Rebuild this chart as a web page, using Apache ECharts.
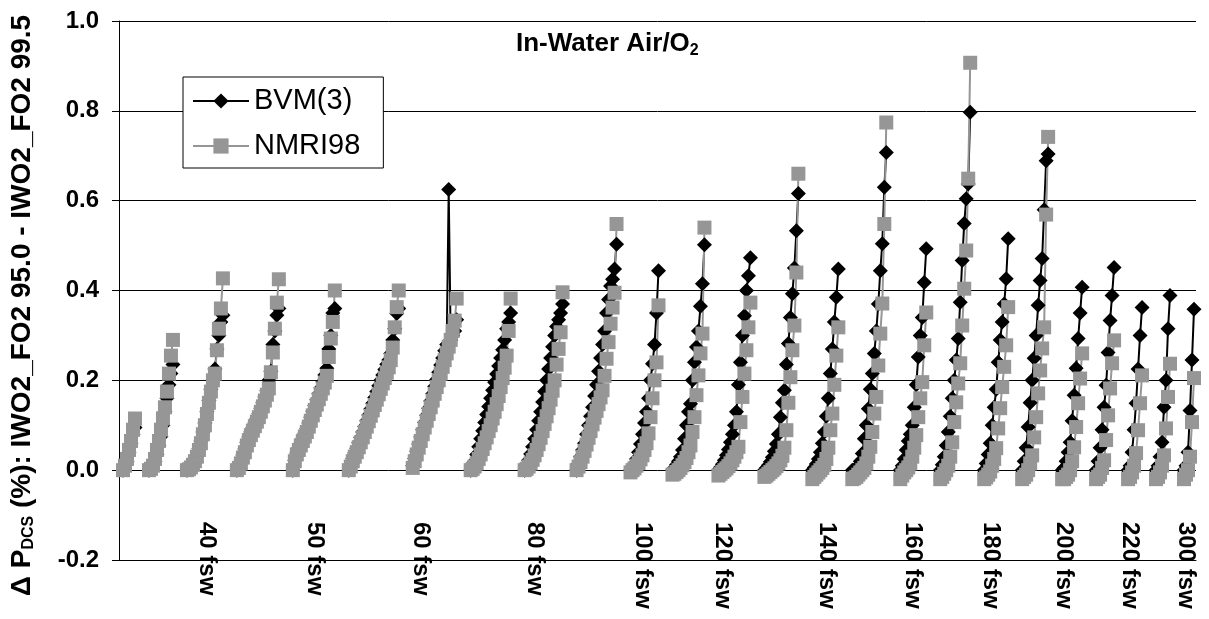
<!DOCTYPE html>
<html>
<head>
<meta charset="utf-8">
<title>In-Water Air/O2</title>
<script src="https://cdn.jsdelivr.net/npm/echarts@6.0.0/dist/echarts.min.js"></script>
<style>
  html, body { margin: 0; padding: 0; background: #fff; }
  #chart { width: 1209px; height: 619px; }
</style>
</head>
<body>
<div id="chart"></div>
<script>
// one array per dive profile, values in order of the category axis
var bvmGroups = [
  [0, 0.01, 0.02, 0.04, 0.06, 0.08, 0.095],
  [0, 0.003, 0.01, 0.02, 0.035, 0.055, 0.075, 0.1, 0.13, 0.16, 0.19, 0.215, 0.235],
  [0, 0.002, 0.006, 0.013, 0.022, 0.033, 0.048, 0.065, 0.085, 0.105, 0.13, 0.155, 0.18, 0.2, 0.225, 0.27, 0.3, 0.33, 0.345],
  [0, 0.008, 0.02, 0.034, 0.047, 0.062, 0.074, 0.085, 0.095, 0.105, 0.115, 0.126, 0.138, 0.15, 0.163, 0.177, 0.2, 0.22, 0.28, 0.31, 0.345, 0.36],
  [0, 0.022, 0.038, 0.05, 0.06, 0.071, 0.082, 0.093, 0.105, 0.118, 0.131, 0.144, 0.157, 0.17, 0.183, 0.197, 0.212, 0.227, 0.27, 0.3, 0.35, 0.36],
  [0, 0.012, 0.026, 0.038, 0.049, 0.061, 0.073, 0.085, 0.097, 0.11, 0.123, 0.136, 0.149, 0.162, 0.175, 0.188, 0.2, 0.212, 0.224, 0.236, 0.245, 0.26, 0.29, 0.315, 0.349, 0.36],
  [0.01, 0.026, 0.042, 0.058, 0.074, 0.09, 0.106, 0.122, 0.138, 0.154, 0.17, 0.186, 0.202, 0.218, 0.234, 0.25, 0.266, 0.28, 0.625, 0.29, 0.3, 0.31, 0.335],
  [0, 0.008, 0.02, 0.035, 0.052, 0.07, 0.088, 0.106, 0.124, 0.142, 0.16, 0.178, 0.196, 0.214, 0.232, 0.25, 0.268, 0.29, 0.315, 0.33, 0.35],
  [0, 0.01, 0.022, 0.036, 0.052, 0.07, 0.09, 0.11, 0.13, 0.152, 0.175, 0.2, 0.225, 0.25, 0.275, 0.3, 0.32, 0.335, 0.35, 0.37],
  [0, 0.015, 0.03, 0.045, 0.06, 0.08, 0.1, 0.12, 0.14, 0.165, 0.19, 0.22, 0.25, 0.28, 0.31, 0.35, 0.38, 0.41, 0.425, 0.448, 0.503],
  [0, 0.006, 0.014, 0.025, 0.04, 0.058, 0.08, 0.105, 0.13, 0.16, 0.2, 0.237, 0.28, 0.35, 0.444],
  [0, 0.005, 0.012, 0.02, 0.03, 0.045, 0.07, 0.1, 0.13, 0.148, 0.2, 0.24, 0.274, 0.31, 0.365, 0.415, 0.502],
  [0, 0.006, 0.013, 0.022, 0.033, 0.046, 0.062, 0.08, 0.1, 0.13, 0.19, 0.24, 0.3, 0.344, 0.4, 0.433, 0.473],
  [0, 0.005, 0.011, 0.019, 0.029, 0.042, 0.058, 0.08, 0.118, 0.15, 0.178, 0.235, 0.282, 0.34, 0.393, 0.45, 0.533, 0.616],
  [0, 0.006, 0.014, 0.025, 0.04, 0.06, 0.085, 0.12, 0.16, 0.215, 0.27, 0.33, 0.385, 0.448],
  [0, 0, 0.005, 0.01, 0.02, 0.037, 0.07, 0.1, 0.137, 0.18, 0.215, 0.26, 0.31, 0.37, 0.444, 0.504, 0.63, 0.707],
  [0, 0.01, 0.025, 0.045, 0.065, 0.08, 0.1, 0.14, 0.19, 0.252, 0.3, 0.34, 0.418, 0.493],
  [0, 0.012, 0.03, 0.055, 0.085, 0.12, 0.16, 0.2, 0.245, 0.293, 0.374, 0.467, 0.549, 0.604, 0.637, 0.797],
  [0, 0.015, 0.035, 0.06, 0.1, 0.14, 0.18, 0.24, 0.29, 0.33, 0.37, 0.426, 0.515],
  [0, 0.02, 0.05, 0.096, 0.15, 0.2, 0.249, 0.3, 0.367, 0.422, 0.471, 0.58, 0.689, 0.704],
  [0, 0.005, 0.02, 0.04, 0.062, 0.11, 0.167, 0.227, 0.293, 0.35, 0.407],
  [0, 0.02, 0.05, 0.09, 0.14, 0.189, 0.262, 0.333, 0.389, 0.451],
  [0, 0.01, 0.04, 0.09, 0.149, 0.225, 0.3, 0.362],
  [0, 0.01, 0.03, 0.062, 0.14, 0.2, 0.315, 0.389],
  [0, 0.01, 0.04, 0.133, 0.245, 0.358]
];

var nmriGroups = [
  [0, 0.01, 0.025, 0.045, 0.065, 0.09, 0.115],
  [0, 0.003, 0.01, 0.025, 0.045, 0.065, 0.09, 0.115, 0.14, 0.175, 0.215, 0.255, 0.29],
  [0, 0.002, 0.006, 0.012, 0.02, 0.03, 0.045, 0.06, 0.08, 0.1, 0.125, 0.15, 0.175, 0.2, 0.215, 0.267, 0.315, 0.36, 0.427],
  [0, 0.005, 0.015, 0.028, 0.04, 0.055, 0.067, 0.078, 0.088, 0.098, 0.108, 0.118, 0.13, 0.142, 0.155, 0.168, 0.182, 0.218, 0.262, 0.315, 0.373, 0.425],
  [0, 0.02, 0.035, 0.045, 0.055, 0.065, 0.075, 0.085, 0.097, 0.11, 0.122, 0.134, 0.146, 0.158, 0.17, 0.182, 0.195, 0.21, 0.252, 0.293, 0.33, 0.4],
  [0, 0.008, 0.02, 0.03, 0.04, 0.051, 0.062, 0.073, 0.085, 0.097, 0.109, 0.121, 0.133, 0.145, 0.157, 0.169, 0.181, 0.193, 0.205, 0.217, 0.229, 0.245, 0.273, 0.318, 0.363, 0.4],
  [0.005, 0.02, 0.035, 0.05, 0.065, 0.08, 0.095, 0.11, 0.125, 0.14, 0.155, 0.17, 0.185, 0.2, 0.215, 0.23, 0.245, 0.26, 0.275, 0.29, 0.31, 0.333, 0.382],
  [0, 0.003, 0.008, 0.015, 0.025, 0.035, 0.047, 0.06, 0.073, 0.087, 0.1, 0.115, 0.13, 0.147, 0.165, 0.185, 0.205, 0.228, 0.255, 0.31, 0.382],
  [0, 0.003, 0.008, 0.015, 0.023, 0.033, 0.045, 0.058, 0.072, 0.087, 0.103, 0.12, 0.138, 0.157, 0.177, 0.2, 0.235, 0.27, 0.307, 0.396],
  [0, 0.008, 0.018, 0.03, 0.043, 0.057, 0.072, 0.087, 0.102, 0.117, 0.132, 0.147, 0.162, 0.178, 0.21, 0.248, 0.285, 0.326, 0.362, 0.395, 0.548],
  [-0.005, 0, 0.004, 0.01, 0.016, 0.024, 0.033, 0.045, 0.06, 0.082, 0.118, 0.16, 0.2, 0.24, 0.367],
  [-0.01, -0.008, -0.004, 0, 0.005, 0.011, 0.018, 0.027, 0.04, 0.055, 0.085, 0.118, 0.167, 0.211, 0.26, 0.304, 0.54],
  [-0.012, -0.008, -0.004, 0, 0.004, 0.009, 0.015, 0.022, 0.03, 0.04, 0.052, 0.107, 0.163, 0.215, 0.267, 0.318, 0.373],
  [-0.015, -0.012, -0.008, -0.004, 0, 0.004, 0.009, 0.015, 0.022, 0.032, 0.05, 0.089, 0.15, 0.207, 0.267, 0.322, 0.44, 0.66],
  [-0.02, -0.015, -0.01, -0.005, 0, 0.005, 0.012, 0.025, 0.05, 0.089, 0.126, 0.19, 0.255, 0.318],
  [-0.02, -0.018, -0.015, -0.01, -0.005, 0, 0.005, 0.015, 0.03, 0.052, 0.085, 0.126, 0.163, 0.233, 0.304, 0.371, 0.548, 0.774],
  [-0.02, -0.012, -0.005, 0, 0.006, 0.015, 0.03, 0.05, 0.078, 0.118, 0.16, 0.196, 0.278, 0.351],
  [-0.02, -0.015, -0.008, 0, 0.01, 0.03, 0.062, 0.107, 0.151, 0.193, 0.238, 0.322, 0.404, 0.489, 0.649, 0.907],
  [-0.02, -0.016, -0.01, -0.003, 0.01, 0.025, 0.049, 0.093, 0.138, 0.185, 0.23, 0.278, 0.363],
  [-0.02, -0.015, -0.01, 0, 0.015, 0.033, 0.073, 0.118, 0.171, 0.222, 0.271, 0.318, 0.569, 0.742],
  [-0.02, -0.02, -0.015, -0.01, 0, 0.02, 0.051, 0.096, 0.149, 0.204, 0.26],
  [-0.02, -0.015, -0.01, 0.005, 0.022, 0.067, 0.122, 0.182, 0.238, 0.289],
  [-0.02, -0.015, -0.005, 0.01, 0.038, 0.089, 0.149, 0.211],
  [-0.02, -0.015, -0.005, 0.01, 0.033, 0.093, 0.163, 0.237],
  [-0.02, -0.01, 0, 0.03, 0.107, 0.205]
];

var depthLabels = ['40 fsw', '50 fsw', '60 fsw', '80 fsw', '100 fsw', '120 fsw', '140 fsw', '160 fsw', '180 fsw', '200 fsw', '220 fsw', '300 fsw'];
var depthLabelIdx = [44, 98, 151, 208, 262, 302, 354, 397, 436, 473, 506, 534];

var yTicks = { min: -0.2, max: 1.0, step: 0.2 };

// empty categories before the first profile and between profiles
var leadSlots = 2;
var gapSlots = 6;
var totalSlots = 540;

var bvmData = [];
var nmriData = [];
var i, k;
for (i = 0; i < leadSlots; i++) { bvmData.push(null); nmriData.push(null); }
bvmGroups.forEach(function (g, gi) {
  if (gi > 0) {
    for (k = 0; k < gapSlots; k++) { bvmData.push(null); nmriData.push(null); }
  }
  var n = Math.max(g.length, nmriGroups[gi].length);
  for (k = 0; k < n; k++) {
    bvmData.push(k < g.length ? g[k] : null);
    nmriData.push(k < nmriGroups[gi].length ? nmriGroups[gi][k] : null);
  }
});
while (bvmData.length < totalSlots) { bvmData.push(null); nmriData.push(null); }

var labelAt = {};
depthLabelIdx.forEach(function (idx, j) { labelAt[idx] = depthLabels[j]; });
var categories = bvmData.map(function (v, idx) { return String(idx); });

var chart = echarts.init(document.getElementById('chart'), null, { renderer: 'canvas' });

var font = 'Liberation Sans, Arial, Helvetica, sans-serif';

var option = {
  animation: false,
  backgroundColor: '#fff',
  textStyle: { fontFamily: font },
  title: {
    text: '{a|In-Water Air/O}{s|2}',
    left: 511,
    top: 24,
    textStyle: {
      rich: {
        a: { fontFamily: font, fontSize: 26, fontWeight: 'bold', color: '#000', lineHeight: 30 },
        s: { fontFamily: font, fontSize: 16, fontWeight: 'bold', color: '#000', lineHeight: 14, verticalAlign: 'bottom' }
      }
    }
  },
  legend: {
    orient: 'vertical',
    left: 183,
    top: 77,
    padding: [8, 23, 6, 9],
    itemWidth: 56,
    itemHeight: 19,
    itemGap: 13,
    borderColor: '#000',
    borderWidth: 1,
    backgroundColor: '#fff',
    selectedMode: false,
    textStyle: { fontFamily: font, fontSize: 29, color: '#000', lineHeight: 32 },
    data: ['BVM(3)', 'NMRI98']
  },
  grid: { left: 118, right: 13, top: 21, bottom: 59 },
  xAxis: {
    type: 'category',
    data: categories,
    boundaryGap: false,
    axisLine: { onZero: false, lineStyle: { color: '#000', width: 1 } },
    axisTick: { show: false },
    splitLine: { show: false },
    axisLabel: {
      interval: function (idx) { return labelAt[idx] !== undefined; },
      formatter: function (v, idx) { return labelAt[idx] || ''; },
      rotate: -90,
      margin: -38,
      fontFamily: font,
      fontSize: 24,
      fontWeight: 'bold',
      color: '#000'
    }
  },
  yAxis: {
    type: 'value',
    min: yTicks.min,
    max: yTicks.max,
    interval: yTicks.step,
    name: '{a|\u0394 P}{s|DCS}{a| (%): IWO2_FO2 95.0 - IWO2_FO2 99.5}',
    nameLocation: 'middle',
    nameGap: 82,
    nameTextStyle: {
      padding: [0, 30, 0, 0],
      rich: {
        a: { fontFamily: font, fontSize: 28, fontWeight: 'bold', color: '#000', lineHeight: 30 },
        s: { fontFamily: font, fontSize: 16, fontWeight: 'bold', color: '#000', lineHeight: 14, verticalAlign: 'bottom' }
      }
    },
    axisLine: { show: true, lineStyle: { color: '#000', width: 1 } },
    axisTick: { show: true, length: 7, lineStyle: { color: '#000' } },
    splitLine: { show: true, lineStyle: { color: '#000', width: 1 } },
    axisLabel: {
      margin: 20,
      fontFamily: font,
      fontSize: 24,
      fontWeight: 'bold',
      color: '#000',
      formatter: function (v) { return v.toFixed(1); }
    }
  },
  series: [
    {
      name: 'BVM(3)',
      type: 'line',
      data: bvmData,
      symbol: 'diamond',
      symbolSize: [15, 15],
      showAllSymbol: true,
      connectNulls: false,
      itemStyle: { color: '#000' },
      lineStyle: { color: '#000', width: 2 },
      emphasis: { disabled: true }
    },
    {
      name: 'NMRI98',
      type: 'line',
      data: nmriData,
      symbol: 'rect',
      symbolSize: 14,
      showAllSymbol: true,
      connectNulls: false,
      itemStyle: { color: '#969696' },
      lineStyle: { color: '#969696', width: 2 },
      emphasis: { disabled: true }
    }
  ]
};

chart.setOption(option);
</script>
</body>
</html>
